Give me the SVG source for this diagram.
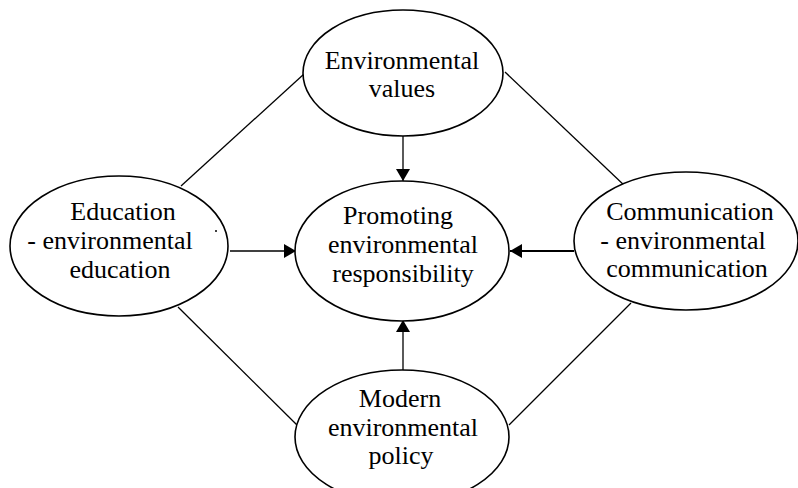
<svg xmlns="http://www.w3.org/2000/svg" width="798" height="488" viewBox="0 0 798 488">
<style>
.node ellipse{fill:#fff;stroke:#000;stroke-width:1.6}
.node text{font-family:"Liberation Serif","Times New Roman",serif;font-size:26px;fill:#000;text-anchor:middle}
.conn line{stroke:#000;stroke-width:1.3;fill:none}
</style>
<defs>
<marker id="ah" viewBox="0 0 12 14" refX="12" refY="7" markerWidth="12" markerHeight="14" markerUnits="userSpaceOnUse" orient="auto">
<path d="M0,0 L12,7 L0,14 Z" fill="#000"/>
</marker>
</defs>
<rect width="798" height="488" fill="#fff"/>
<g id="connectors" class="conn">
<line x1="304" y1="74" x2="181" y2="186"/>
<line x1="505" y1="72" x2="626" y2="187"/>
<line x1="178" y1="307" x2="299" y2="427"/>
<line x1="631" y1="303" x2="509" y2="425"/>
<line x1="403" y1="136" x2="403" y2="181" marker-end="url(#ah)"/>
<line x1="403" y1="370" x2="403" y2="320" marker-end="url(#ah)"/>
<line x1="230" y1="251" x2="296" y2="251" marker-end="url(#ah)"/>
<line x1="574" y1="251" x2="510" y2="251" marker-end="url(#ah)" style="stroke-width:2"/>
</g>
<g id="node-values" class="node">
<ellipse cx="403" cy="73" rx="100" ry="63"/>
<text x="402" y="69">Environmental</text>
<text x="402" y="97">values</text>
</g>
<g id="node-promoting" class="node">
<ellipse cx="402" cy="251" rx="107" ry="70"/>
<text x="398" y="224">Promoting</text>
<text x="403" y="253">environmental</text>
<text x="403" y="282">responsibility</text>
</g>
<g id="node-education" class="node">
<ellipse cx="119" cy="246" rx="109" ry="70"/>
<text x="123" y="220">Education</text>
<text x="110" y="249">- environmental</text>
<text x="120" y="278">education</text>
</g>
<g id="node-communication" class="node">
<ellipse cx="686" cy="241" rx="112" ry="69"/>
<text x="690" y="220">Communication</text>
<text x="683" y="249">- environmental</text>
<text x="687" y="277">communication</text>
</g>
<g id="node-policy" class="node">
<ellipse cx="402" cy="437" rx="107" ry="67"/>
<text x="400" y="407">Modern</text>
<text x="403" y="436">environmental</text>
<text x="401" y="464">policy</text>
</g>
<circle cx="216" cy="231" r="1" fill="#000"/>
</svg>
